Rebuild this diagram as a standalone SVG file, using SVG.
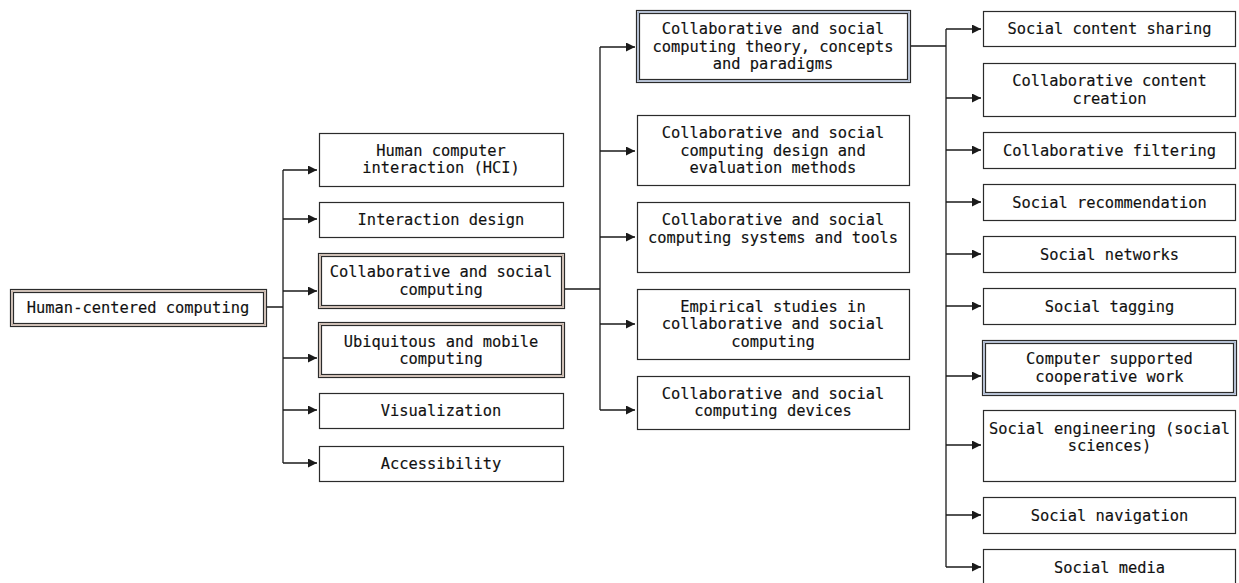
<svg xmlns="http://www.w3.org/2000/svg" width="1239" height="583" viewBox="0 0 1239 583">
  <style>
    .box { fill: #ffffff; stroke: #2b2b2b; stroke-width: 1.2; }
    .outer { fill: #ffffff; stroke: #2b2b2b; stroke-width: 1.2; }
    .mid { fill: none; stroke: #a07458; stroke-width: 0.7; }
    .mid-blue { fill: none; stroke: #5a78b0; stroke-width: 0.7; }
    .inner { fill: none; stroke: #2b2b2b; stroke-width: 1.2; }
    .lbl { font-family: "DejaVu Sans Mono", "Liberation Mono", monospace; font-size: 15.4px; fill: #111111; text-anchor: middle; stroke: #111111; stroke-width: 0.15; }
    .wire { fill: none; stroke: #1a1a1a; stroke-width: 1.3; }
  </style>
  <defs>
    <marker id="arrow" markerWidth="10" markerHeight="10" refX="9" refY="4.5" orient="auto" markerUnits="userSpaceOnUse">
      <path d="M0,0 L9,4.5 L0,9 z" fill="#1a1a1a"/>
    </marker>
  </defs>
  <rect width="1239" height="583" fill="#ffffff"/>

  <!-- connectors -->
  <g id="connectors">
    <!-- root to level 1 -->
    <path class="wire" d="M266,307 H283 M283,170 V463"/>
    <path class="wire" marker-end="url(#arrow)" d="M283,170 H317"/>
    <path class="wire" marker-end="url(#arrow)" d="M283,219 H317"/>
    <path class="wire" marker-end="url(#arrow)" d="M283,291 H317"/>
    <path class="wire" marker-end="url(#arrow)" d="M283,358 H317"/>
    <path class="wire" marker-end="url(#arrow)" d="M283,410 H317"/>
    <path class="wire" marker-end="url(#arrow)" d="M283,463 H317"/>
    <!-- collaborative and social computing to level 2 -->
    <path class="wire" d="M565,289 H600 M600,47 V410"/>
    <path class="wire" marker-end="url(#arrow)" d="M600,47 H635"/>
    <path class="wire" marker-end="url(#arrow)" d="M600,151 H635"/>
    <path class="wire" marker-end="url(#arrow)" d="M600,237 H635"/>
    <path class="wire" marker-end="url(#arrow)" d="M600,324 H635"/>
    <path class="wire" marker-end="url(#arrow)" d="M600,410 H635"/>
    <!-- theory, concepts and paradigms to level 3 -->
    <path class="wire" d="M911,46 H946 M946,29 V567"/>
    <path class="wire" marker-end="url(#arrow)" d="M946,29 H981"/>
    <path class="wire" marker-end="url(#arrow)" d="M946,98 H981"/>
    <path class="wire" marker-end="url(#arrow)" d="M946,150 H981"/>
    <path class="wire" marker-end="url(#arrow)" d="M946,202 H981"/>
    <path class="wire" marker-end="url(#arrow)" d="M946,254 H981"/>
    <path class="wire" marker-end="url(#arrow)" d="M946,306 H981"/>
    <path class="wire" marker-end="url(#arrow)" d="M946,376 H981"/>
    <path class="wire" marker-end="url(#arrow)" d="M946,445 H981"/>
    <path class="wire" marker-end="url(#arrow)" d="M946,515 H981"/>
    <path class="wire" marker-end="url(#arrow)" d="M946,567 H981"/>
  </g>

  <!-- root -->
  <g id="human-centered-computing">
    <rect class="outer" x="10.5" y="289.5" width="256" height="37"/>
    <rect class="mid" x="12" y="291" width="253" height="34"/>
    <rect class="inner" x="13.5" y="292.5" width="250" height="31"/>
    <text class="lbl" x="138" y="313">Human-centered computing</text>
  </g>

  <!-- level 1 -->
  <g id="hci">
    <rect class="box" x="319.5" y="133.5" width="244" height="53"/>
    <text class="lbl" x="441" y="156">Human computer</text>
    <text class="lbl" x="441" y="173">interaction (HCI)</text>
  </g>
  <g id="interaction-design">
    <rect class="box" x="319.5" y="202.5" width="244" height="35"/>
    <text class="lbl" x="441" y="225">Interaction design</text>
  </g>
  <g id="collaborative-social-computing">
    <rect class="outer" x="318.5" y="253.5" width="246" height="55"/>
    <rect class="mid" x="320" y="255" width="243" height="52"/>
    <rect class="inner" x="321.5" y="256.5" width="240" height="49"/>
    <text class="lbl" x="441" y="277">Collaborative and social</text>
    <text class="lbl" x="441" y="295">computing</text>
  </g>
  <g id="ubiquitous-mobile-computing">
    <rect class="outer" x="318.5" y="322.5" width="246" height="55"/>
    <rect class="mid" x="320" y="324" width="243" height="52"/>
    <rect class="inner" x="321.5" y="325.5" width="240" height="49"/>
    <text class="lbl" x="441" y="347">Ubiquitous and mobile</text>
    <text class="lbl" x="441" y="364">computing</text>
  </g>
  <g id="visualization">
    <rect class="box" x="319.5" y="393.5" width="244" height="35"/>
    <text class="lbl" x="441" y="416">Visualization</text>
  </g>
  <g id="accessibility">
    <rect class="box" x="319.5" y="446.5" width="244" height="35"/>
    <text class="lbl" x="441" y="469">Accessibility</text>
  </g>

  <!-- level 2 -->
  <g id="theory-concepts-paradigms">
    <rect class="outer" x="636.5" y="10.5" width="274" height="72"/>
    <rect class="mid-blue" x="638" y="12" width="271" height="69"/>
    <rect class="inner" x="639.5" y="13.5" width="268" height="66"/>
    <text class="lbl" x="773" y="34">Collaborative and social</text>
    <text class="lbl" x="773" y="52">computing theory, concepts</text>
    <text class="lbl" x="773" y="69">and paradigms</text>
  </g>
  <g id="design-evaluation-methods">
    <rect class="box" x="637.5" y="115.5" width="272" height="70"/>
    <text class="lbl" x="773" y="138">Collaborative and social</text>
    <text class="lbl" x="773" y="156">computing design and</text>
    <text class="lbl" x="773" y="173">evaluation methods</text>
  </g>
  <g id="systems-tools">
    <rect class="box" x="637.5" y="202.5" width="272" height="70"/>
    <text class="lbl" x="773" y="225">Collaborative and social</text>
    <text class="lbl" x="773" y="243">computing systems and tools</text>
  </g>
  <g id="empirical-studies">
    <rect class="box" x="637.5" y="289.5" width="272" height="70"/>
    <text class="lbl" x="773" y="312">Empirical studies in</text>
    <text class="lbl" x="773" y="329">collaborative and social</text>
    <text class="lbl" x="773" y="347">computing</text>
  </g>
  <g id="computing-devices">
    <rect class="box" x="637.5" y="376.5" width="272" height="53"/>
    <text class="lbl" x="773" y="399">Collaborative and social</text>
    <text class="lbl" x="773" y="416">computing devices</text>
  </g>

  <!-- level 3 -->
  <g id="social-content-sharing">
    <rect class="box" x="983.5" y="11.5" width="252" height="35"/>
    <text class="lbl" x="1109.5" y="34">Social content sharing</text>
  </g>
  <g id="collaborative-content-creation">
    <rect class="box" x="983.5" y="63.5" width="252" height="53"/>
    <text class="lbl" x="1109.5" y="86">Collaborative content</text>
    <text class="lbl" x="1109.5" y="104">creation</text>
  </g>
  <g id="collaborative-filtering">
    <rect class="box" x="983.5" y="132.5" width="252" height="36"/>
    <text class="lbl" x="1109.5" y="156">Collaborative filtering</text>
  </g>
  <g id="social-recommendation">
    <rect class="box" x="983.5" y="184.5" width="252" height="36"/>
    <text class="lbl" x="1109.5" y="208">Social recommendation</text>
  </g>
  <g id="social-networks">
    <rect class="box" x="983.5" y="236.5" width="252" height="36"/>
    <text class="lbl" x="1109.5" y="260">Social networks</text>
  </g>
  <g id="social-tagging">
    <rect class="box" x="983.5" y="288.5" width="252" height="36"/>
    <text class="lbl" x="1109.5" y="312">Social tagging</text>
  </g>
  <g id="cscw">
    <rect class="outer" x="982.5" y="340.5" width="254" height="55"/>
    <rect class="mid-blue" x="984" y="342" width="251" height="52"/>
    <rect class="inner" x="985.5" y="343.5" width="248" height="49"/>
    <text class="lbl" x="1109.5" y="364">Computer supported</text>
    <text class="lbl" x="1109.5" y="382">cooperative work</text>
  </g>
  <g id="social-engineering">
    <rect class="box" x="983.5" y="410.5" width="252" height="71"/>
    <text class="lbl" x="1109.5" y="434">Social engineering (social</text>
    <text class="lbl" x="1109.5" y="451">sciences)</text>
  </g>
  <g id="social-navigation">
    <rect class="box" x="983.5" y="497.5" width="252" height="36"/>
    <text class="lbl" x="1109.5" y="521">Social navigation</text>
  </g>
  <g id="social-media">
    <rect class="box" x="983.5" y="549.5" width="252" height="40"/>
    <text class="lbl" x="1109.5" y="573">Social media</text>
  </g>
</svg>
